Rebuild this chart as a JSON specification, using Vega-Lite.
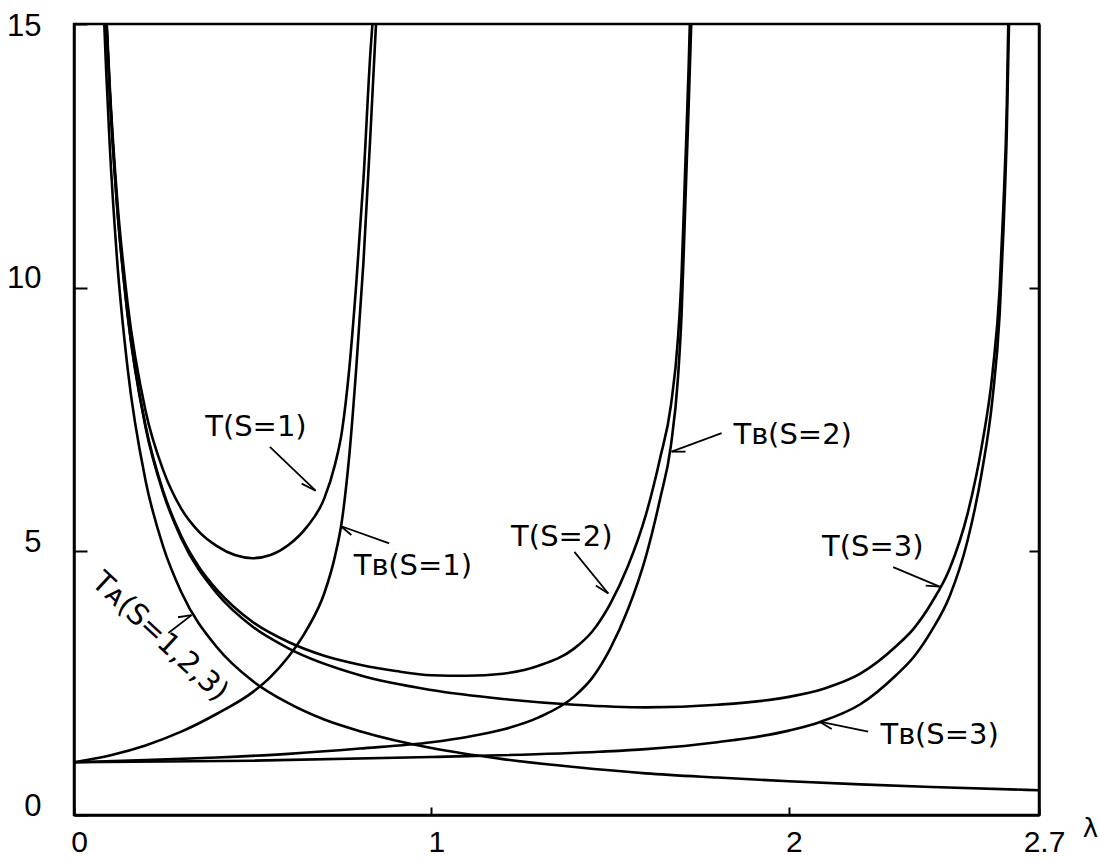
{
  "$schema": "https://vega.github.io/schema/vega-lite/v6.json",
  "width": 965,
  "height": 791,
  "autosize": {"type": "none"},
  "padding": {"left": 74, "top": 24, "right": 60, "bottom": 44},
  "background": "white",
  "config": {
    "view": {"stroke": "black", "strokeWidth": 2.5},
    "axis": {
      "domainColor": "black",
      "domainWidth": 2.5,
      "tickColor": "black",
      "tickWidth": 2,
      "labelColor": "black",
      "labelFont": "Liberation Sans Narrow, Liberation Sans",
      "labelFontSize": 31,
      "grid": false,
      "labelFlush": false,
      "labelOverlap": false
    }
  },
  "datasets": {
    "curves": [
      {"series": "TA", "lam": 0.0847, "T": 15}, {"series": "TA", "lam": 0.09, "T": 14.11}, {"series": "TA", "lam": 0.1, "T": 12.7}, {"series": "TA", "lam": 0.12, "T": 10.58}, {"series": "TA", "lam": 0.15, "T": 8.47}, {"series": "TA", "lam": 0.2, "T": 6.35}, {"series": "TA", "lam": 0.25, "T": 5.08}, {"series": "TA", "lam": 0.3, "T": 4.23}, {"series": "TA", "lam": 0.4, "T": 3.18}, {"series": "TA", "lam": 0.5, "T": 2.54}, {"series": "TA", "lam": 0.6, "T": 2.12}, {"series": "TA", "lam": 0.7, "T": 1.81}, {"series": "TA", "lam": 0.8, "T": 1.59}, {"series": "TA", "lam": 1.0, "T": 1.27}, {"series": "TA", "lam": 1.2, "T": 1.06}, {"series": "TA", "lam": 1.4, "T": 0.91}, {"series": "TA", "lam": 1.6, "T": 0.79}, {"series": "TA", "lam": 1.8, "T": 0.71}, {"series": "TA", "lam": 2.0, "T": 0.64}, {"series": "TA", "lam": 2.2, "T": 0.58}, {"series": "TA", "lam": 2.4, "T": 0.53}, {"series": "TA", "lam": 2.7, "T": 0.47},

      {"series": "T1", "lam": 0.0917, "T": 15}, {"series": "T1", "lam": 0.1, "T": 13.83}, {"series": "T1", "lam": 0.12, "T": 11.75}, {"series": "T1", "lam": 0.15, "T": 9.7}, {"series": "T1", "lam": 0.2, "T": 7.67}, {"series": "T1", "lam": 0.25, "T": 6.53}, {"series": "T1", "lam": 0.3, "T": 5.81}, {"series": "T1", "lam": 0.35, "T": 5.37}, {"series": "T1", "lam": 0.4, "T": 5.1}, {"series": "T1", "lam": 0.45, "T": 4.93}, {"series": "T1", "lam": 0.5, "T": 4.87}, {"series": "T1", "lam": 0.55, "T": 4.93}, {"series": "T1", "lam": 0.6, "T": 5.12}, {"series": "T1", "lam": 0.65, "T": 5.45}, {"series": "T1", "lam": 0.7, "T": 6.0}, {"series": "T1", "lam": 0.73, "T": 6.64}, {"series": "T1", "lam": 0.75, "T": 7.29}, {"series": "T1", "lam": 0.77, "T": 8.45}, {"series": "T1", "lam": 0.79, "T": 10.1}, {"series": "T1", "lam": 0.81, "T": 12.07}, {"series": "T1", "lam": 0.83, "T": 14.53}, {"series": "T1", "lam": 0.835, "T": 15},

      {"series": "TB1", "lam": 0, "T": 1}, {"series": "TB1", "lam": 0.1, "T": 1.13}, {"series": "TB1", "lam": 0.2, "T": 1.32}, {"series": "TB1", "lam": 0.3, "T": 1.58}, {"series": "TB1", "lam": 0.4, "T": 1.92}, {"series": "TB1", "lam": 0.5, "T": 2.33}, {"series": "TB1", "lam": 0.55, "T": 2.62}, {"series": "TB1", "lam": 0.6, "T": 3.0}, {"series": "TB1", "lam": 0.65, "T": 3.5}, {"series": "TB1", "lam": 0.7, "T": 4.2}, {"series": "TB1", "lam": 0.73, "T": 4.9}, {"series": "TB1", "lam": 0.75, "T": 5.6}, {"series": "TB1", "lam": 0.77, "T": 6.8}, {"series": "TB1", "lam": 0.79, "T": 8.5}, {"series": "TB1", "lam": 0.81, "T": 10.5}, {"series": "TB1", "lam": 0.83, "T": 13}, {"series": "TB1", "lam": 0.845, "T": 15},

      {"series": "T2", "lam": 0.091, "T": 15}, {"series": "T2", "lam": 0.1, "T": 13.72}, {"series": "T2", "lam": 0.12, "T": 11.61}, {"series": "T2", "lam": 0.15, "T": 9.5}, {"series": "T2", "lam": 0.2, "T": 7.39}, {"series": "T2", "lam": 0.25, "T": 6.13}, {"series": "T2", "lam": 0.3, "T": 5.29}, {"series": "T2", "lam": 0.35, "T": 4.7}, {"series": "T2", "lam": 0.4, "T": 4.27}, {"series": "T2", "lam": 0.5, "T": 3.66}, {"series": "T2", "lam": 0.6, "T": 3.28}, {"series": "T2", "lam": 0.7, "T": 3.02}, {"series": "T2", "lam": 0.8, "T": 2.85}, {"series": "T2", "lam": 0.9, "T": 2.73}, {"series": "T2", "lam": 1.0, "T": 2.65}, {"series": "T2", "lam": 1.1, "T": 2.64}, {"series": "T2", "lam": 1.2, "T": 2.68}, {"series": "T2", "lam": 1.3, "T": 2.83}, {"series": "T2", "lam": 1.4, "T": 3.16}, {"series": "T2", "lam": 1.45, "T": 3.48}, {"series": "T2", "lam": 1.5, "T": 4.0}, {"series": "T2", "lam": 1.55, "T": 4.72}, {"series": "T2", "lam": 1.6, "T": 5.69}, {"series": "T2", "lam": 1.64, "T": 6.77}, {"series": "T2", "lam": 1.67, "T": 7.76}, {"series": "T2", "lam": 1.69, "T": 9.05}, {"series": "T2", "lam": 1.7, "T": 10.25}, {"series": "T2", "lam": 1.71, "T": 12.24}, {"series": "T2", "lam": 1.72, "T": 14.24}, {"series": "T2", "lam": 1.723, "T": 15},

      {"series": "TB2", "lam": 0, "T": 1}, {"series": "TB2", "lam": 0.2, "T": 1.04}, {"series": "TB2", "lam": 0.4, "T": 1.09}, {"series": "TB2", "lam": 0.6, "T": 1.16}, {"series": "TB2", "lam": 0.8, "T": 1.26}, {"series": "TB2", "lam": 1.0, "T": 1.38}, {"series": "TB2", "lam": 1.1, "T": 1.48}, {"series": "TB2", "lam": 1.2, "T": 1.62}, {"series": "TB2", "lam": 1.3, "T": 1.85}, {"series": "TB2", "lam": 1.4, "T": 2.25}, {"series": "TB2", "lam": 1.45, "T": 2.6}, {"series": "TB2", "lam": 1.5, "T": 3.15}, {"series": "TB2", "lam": 1.55, "T": 3.9}, {"series": "TB2", "lam": 1.6, "T": 4.9}, {"series": "TB2", "lam": 1.64, "T": 6.0}, {"series": "TB2", "lam": 1.67, "T": 7.0}, {"series": "TB2", "lam": 1.69, "T": 8.3}, {"series": "TB2", "lam": 1.7, "T": 9.5}, {"series": "TB2", "lam": 1.71, "T": 11.5}, {"series": "TB2", "lam": 1.72, "T": 13.5}, {"series": "TB2", "lam": 1.727, "T": 15},

      {"series": "T3", "lam": 0.0907, "T": 15}, {"series": "T3", "lam": 0.1, "T": 13.71}, {"series": "T3", "lam": 0.12, "T": 11.59}, {"series": "T3", "lam": 0.15, "T": 9.48}, {"series": "T3", "lam": 0.2, "T": 7.36}, {"series": "T3", "lam": 0.25, "T": 6.1}, {"series": "T3", "lam": 0.3, "T": 5.25}, {"series": "T3", "lam": 0.4, "T": 4.2}, {"series": "T3", "lam": 0.5, "T": 3.57}, {"series": "T3", "lam": 0.6, "T": 3.16}, {"series": "T3", "lam": 0.8, "T": 2.65}, {"series": "T3", "lam": 1.0, "T": 2.37}, {"series": "T3", "lam": 1.2, "T": 2.2}, {"series": "T3", "lam": 1.4, "T": 2.09}, {"series": "T3", "lam": 1.6, "T": 2.04}, {"series": "T3", "lam": 1.8, "T": 2.09}, {"series": "T3", "lam": 2.0, "T": 2.24}, {"series": "T3", "lam": 2.1, "T": 2.4}, {"series": "T3", "lam": 2.2, "T": 2.68}, {"series": "T3", "lam": 2.3, "T": 3.2}, {"series": "T3", "lam": 2.35, "T": 3.54}, {"series": "T3", "lam": 2.4, "T": 4.03}, {"series": "T3", "lam": 2.45, "T": 4.67}, {"series": "T3", "lam": 2.5, "T": 5.71}, {"series": "T3", "lam": 2.54, "T": 7.0}, {"series": "T3", "lam": 2.57, "T": 8.39}, {"series": "T3", "lam": 2.59, "T": 9.99}, {"series": "T3", "lam": 2.6, "T": 11.49}, {"series": "T3", "lam": 2.61, "T": 13.49}, {"series": "T3", "lam": 2.614, "T": 15},

      {"series": "TB3", "lam": 0, "T": 1}, {"series": "TB3", "lam": 0.5, "T": 1.03}, {"series": "TB3", "lam": 1.0, "T": 1.1}, {"series": "TB3", "lam": 1.47, "T": 1.2}, {"series": "TB3", "lam": 1.6, "T": 1.25}, {"series": "TB3", "lam": 1.8, "T": 1.38}, {"series": "TB3", "lam": 2.0, "T": 1.6}, {"series": "TB3", "lam": 2.09, "T": 1.77}, {"series": "TB3", "lam": 2.2, "T": 2.1}, {"series": "TB3", "lam": 2.3, "T": 2.65}, {"series": "TB3", "lam": 2.35, "T": 3.0}, {"series": "TB3", "lam": 2.4, "T": 3.5}, {"series": "TB3", "lam": 2.45, "T": 4.15}, {"series": "TB3", "lam": 2.5, "T": 5.2}, {"series": "TB3", "lam": 2.54, "T": 6.5}, {"series": "TB3", "lam": 2.57, "T": 7.9}, {"series": "TB3", "lam": 2.59, "T": 9.5}, {"series": "TB3", "lam": 2.6, "T": 11}, {"series": "TB3", "lam": 2.61, "T": 13}, {"series": "TB3", "lam": 2.616, "T": 15}
    ],
    "arrows": [
      {"lam": 0.548, "T": 6.98, "lam2": 0.676, "T2": 6.15},
      {"lam": 0.882, "T": 5.15, "lam2": 0.746, "T2": 5.48},
      {"lam": 1.812, "T": 7.24, "lam2": 1.672, "T2": 6.89},
      {"lam": 2.292, "T": 4.7, "lam2": 2.422, "T2": 4.33},
      {"lam": 2.222, "T": 1.58, "lam2": 2.086, "T2": 1.77},
      {"lam": 1.4, "T": 4.99, "lam2": 1.495, "T2": 4.2},
      {"lam": 0.264, "T": 3.45, "lam2": 0.329, "T2": 3.79},
      {"lam": 0.676, "T": 6.15, "lam2": 0.637, "T2": 6.283},
      {"lam": 0.746, "T": 5.48, "lam2": 0.776, "T2": 5.31},
      {"lam": 1.672, "T": 6.89, "lam2": 1.711, "T2": 6.89},
      {"lam": 2.422, "T": 4.33, "lam2": 2.383, "T2": 4.35},
      {"lam": 2.086, "T": 1.77, "lam2": 2.12, "T2": 1.63},
      {"lam": 1.495, "T": 4.2, "lam2": 1.46, "T2": 4.35},
      {"lam": 0.329, "T": 3.79, "lam2": 0.291, "T2": 3.75}
    ],
    "labels": [
      {"lam": 0.509, "T": 7.36, "text": "T(S=1)"},
      {"lam": 0.948, "T": 4.72, "text": "Tʙ(S=1)"},
      {"lam": 1.365, "T": 5.27, "text": "T(S=2)"},
      {"lam": 2.011, "T": 7.2, "text": "Tʙ(S=2)"},
      {"lam": 2.235, "T": 5.08, "text": "T(S=3)"},
      {"lam": 2.422, "T": 1.52, "text": "Tʙ(S=3)"}
    ],
    "labelA": [
      {"lam": 0.241, "T": 3.38, "text": "Tᴀ(S=1,2,3)"}
    ]
  },
  "resolve": {"axis": {"y": "independent"}},
  "layer": [
    {
      "data": {"name": "curves"},
      "mark": {"type": "line", "interpolate": "monotone", "strokeWidth": 2.6, "color": "black", "clip": true},
      "encoding": {
        "x": {"field": "lam", "type": "quantitative", "scale": {"domain": [0, 2.7], "nice": false, "zero": false},
              "axis": {"values": [0, 1, 2, 2.7], "format": "~g", "tickSize": -8, "labelPadding": 35, "labelOffset": 5,
                       "labelBaseline": "middle", "labelFontSize": 30,
                       "title": "λ", "titleFont": "DejaVu Sans", "titleFontSize": 26, "titleFontWeight": "normal", "titleColor": "black",
                       "titleX": 1016, "titleY": 13, "titleAlign": "center", "titleBaseline": "middle", "titleAnchor": null}},
        "y": {"field": "T", "type": "quantitative", "scale": {"domain": [0, 15], "nice": false},
              "axis": {"values": [0, 5, 10, 15], "format": "d", "tickSize": -13, "labelPadding": 46,
                       "labelOffset": {"condition": {"test": "datum.value == 15", "value": 2}, "value": -9}, "title": null}},
        "detail": {"field": "series"}
      }
    },
    {
      "data": {"name": "arrows"},
      "mark": {"type": "rule", "strokeWidth": 1.8, "color": "black"},
      "encoding": {
        "x": {"field": "lam", "type": "quantitative"},
        "y": {"field": "T", "type": "quantitative",
              "axis": {"orient": "right", "values": [5, 10], "labels": false, "tickSize": -10, "title": null}},
        "x2": {"field": "lam2"},
        "y2": {"field": "T2"}
      }
    },
    {
      "data": {"name": "labels"},
      "mark": {"type": "text", "font": "DejaVu Sans", "fontSize": 29, "color": "black", "align": "center", "baseline": "middle"},
      "encoding": {
        "x": {"field": "lam", "type": "quantitative"},
        "y": {"field": "T", "type": "quantitative", "axis": null},
        "text": {"field": "text"}
      }
    },
    {
      "data": {"name": "labelA"},
      "mark": {"type": "text", "font": "DejaVu Sans", "fontSize": 29, "color": "black", "align": "center", "baseline": "middle", "angle": 43},
      "encoding": {
        "x": {"field": "lam", "type": "quantitative"},
        "y": {"field": "T", "type": "quantitative", "axis": null},
        "text": {"field": "text"}
      }
    }
  ]
}
